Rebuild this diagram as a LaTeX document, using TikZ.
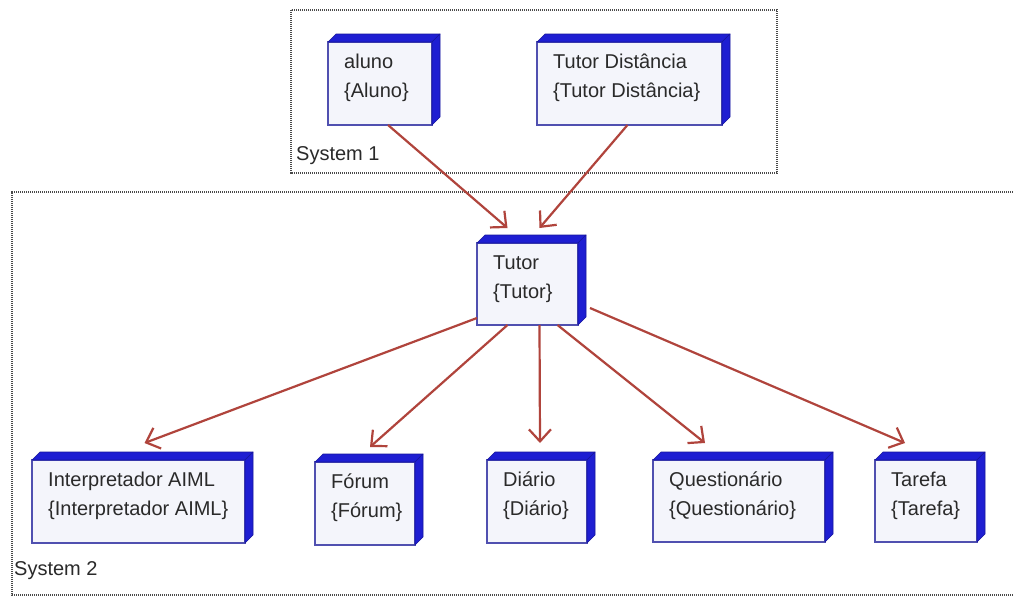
\documentclass[tikz,border=0pt]{standalone}
\usepackage{fontspec}
\setmainfont{Liberation Sans}
\usetikzlibrary{arrows.meta}

\definecolor{depthblue}{HTML}{1E1ED2}
\definecolor{faceblue}{HTML}{F4F5FB}
\definecolor{edgeblue}{HTML}{5050B0}
\definecolor{linkred}{HTML}{B0443C}
\definecolor{framegray}{HTML}{4A4A4A}
\definecolor{inkgray}{HTML}{2A2A2A}

\tikzset{
  face/.style={draw=edgeblue, fill=faceblue, line width=1.6pt, anchor=north west, inner sep=0pt, outer sep=0pt},
  depthfill/.style={fill=depthblue, draw=depthblue!75!black, line width=0.6pt, line join=round},
  lbl/.style={font=\fontsize{20}{24}\selectfont, text=inkgray, inner sep=0pt, anchor=base west},
  link/.style={draw=linkred, line width=2.2pt,
    -{Straight Barb[length=12pt,width=22pt,line width=2.2pt]}},
  sysframe/.style={draw=framegray, line width=1.8pt, dash pattern=on 1.2pt off 0.8pt},
}

% A deployment node: front face, blue depth on top and right, two text lines
% #1 name, #2 x, #3 y (top left of front face), #4 width, #5 height, #6 #7 lines
\newcommand\deploynode[7]{%
  \node[face, minimum width=#4pt, minimum height=#5pt] (#1) at (#2,#3) {};
  \path[depthfill] (#1.north west) -- ++(8,-8) -- ([shift={(8,-8)}]#1.north east)
    -- (#1.north east) -- cycle;
  \path[depthfill] (#1.north east) -- ++(8,-8) -- ([shift={(8,-8)}]#1.south east)
    -- (#1.south east) -- cycle;
  \node[lbl] (#1-a) at ([shift={(16,26)}]#1.north west) {#6};
  \node[lbl] (#1-b) at ([shift={(16,55)}]#1.north west) {#7};
}

\begin{document}
\begin{tikzpicture}[x=1pt,y=-1pt]
  \useasboundingbox (0,0) rectangle (1013,597);
  \fill[white] (0,0) rectangle (1013,597);

  % system frames
  \draw[sysframe] (291,10) rectangle (777,173);
  \draw[sysframe] (1013,192) -- (12,192) -- (12,595) -- (1013,595);
  \node[lbl] (sys1) at (296,160) {System 1};
  \node[lbl] (sys2) at (14,575) {System 2};

  % nodes
  \deploynode{aluno}{328}{42}{104}{83}{aluno}{\{Aluno\}}
  \deploynode{tdist}{537}{42}{185}{83}{Tutor Distância}{\{Tutor Distância\}}
  \deploynode{tutor}{477}{243}{101}{82}{Tutor}{\{Tutor\}}
  \deploynode{interp}{32}{460}{213}{83}{Interpretador AIML}{\{Interpretador AIML\}}
  \deploynode{forum}{315}{462}{100}{83}{Fórum}{\{Fórum\}}
  \deploynode{diario}{487}{460}{100}{83}{Diário}{\{Diário\}}
  \deploynode{quest}{653}{460}{172}{82}{Questionário}{\{Questionário\}}
  \deploynode{tarefa}{875}{460}{102}{82}{Tarefa}{\{Tarefa\}}

  % connectors
  \draw[link] ([shift={(8,0)}]aluno.south) -- ([shift={(-20,-15)}]tutor.north);
  \draw[link] ([shift={(-2,0)}]tdist.south) -- ([shift={(12,-15)}]tutor.north);
  \draw[link] ([shift={(0,-7)}]tutor.south west) -- ([shift={(6,-17)}]interp.north);
  \draw[link] ([shift={(-20,0)}]tutor.south) -- ([shift={(5,-15)}]forum.north);
  \draw[link] ([shift={(12,0)}]tutor.south) -- ([shift={(3,-17)}]diario.north);
  \draw[link] ([shift={(30,0)}]tutor.south) -- ([shift={(-34,-17)}]quest.north);
  \draw[link] ([shift={(12,-17)}]tutor.south east) -- ([shift={(-21,-17)}]tarefa.north);
\end{tikzpicture}
\end{document}
